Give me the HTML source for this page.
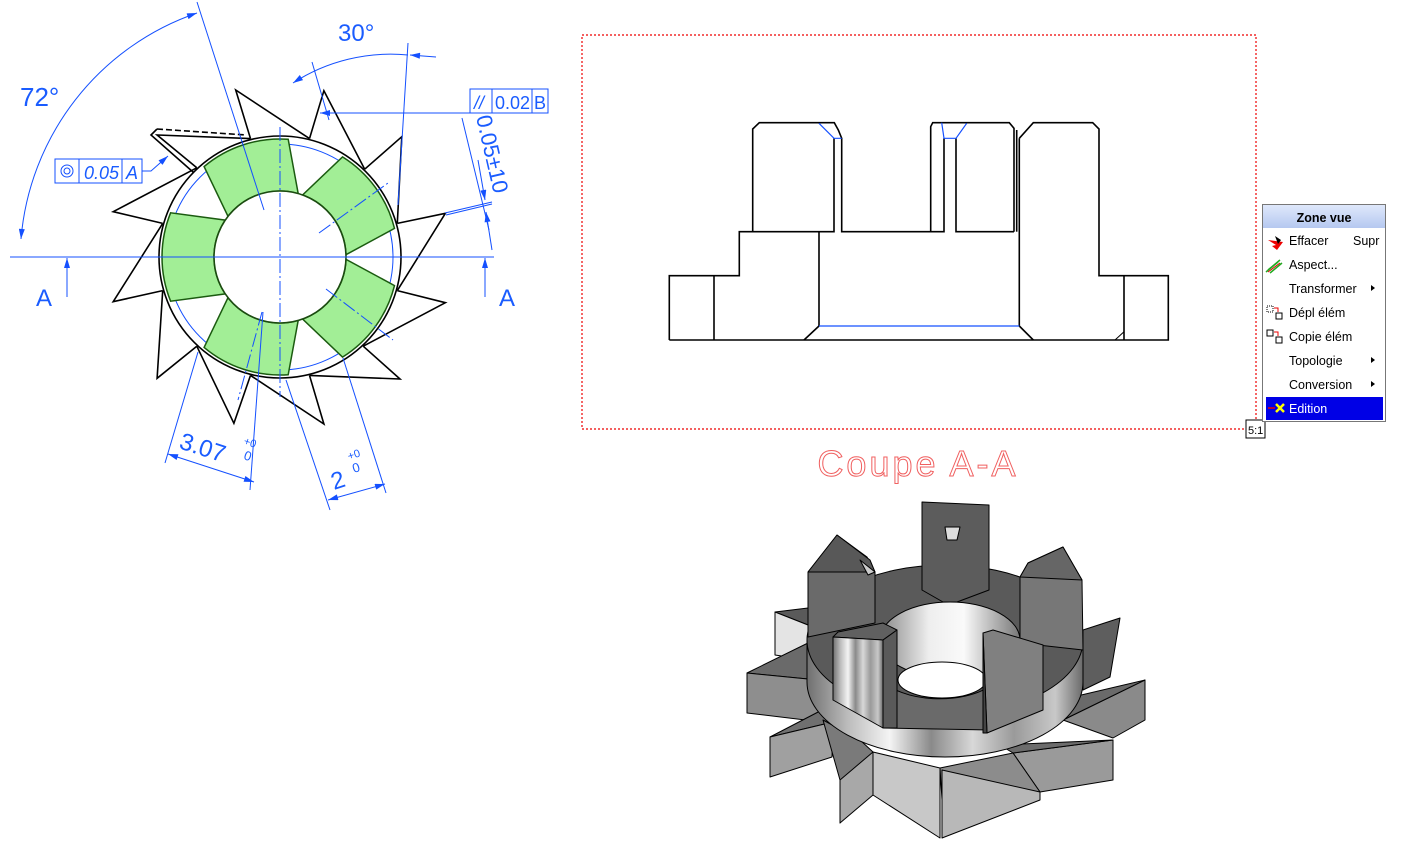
<!DOCTYPE html>
<html><head><meta charset="utf-8"><style>
html,body{margin:0;padding:0;background:#fff;width:1406px;height:847px;overflow:hidden}
svg{display:block}
.b{stroke:#1450ff;stroke-width:1;fill:none}
.k{stroke:#000;stroke-width:1.6;fill:none}
.t{font-family:"Liberation Sans",sans-serif;fill:#1a5cff}
.m{font-family:"Liberation Sans",sans-serif;font-size:12.5px}
.g{fill:#a2ee96;stroke:#1b5b10;stroke-width:1.5}
</style></head><body>
<svg width="1406" height="847" viewBox="0 0 1406 847" xmlns="http://www.w3.org/2000/svg">
<defs>
<marker id="ar" viewBox="0 0 10 6" refX="10" refY="3" markerWidth="12" markerHeight="6" orient="auto-start-reverse" markerUnits="userSpaceOnUse"><path d="M0,0L10,3L0,6z" fill="#1450ff"/></marker>
<linearGradient id="met" x1="0" x2="1" y1="0" y2="0">
<stop offset="0" stop-color="#707070"/><stop offset="0.15" stop-color="#bdbdbd"/><stop offset="0.3" stop-color="#f4f4f4"/><stop offset="0.45" stop-color="#8a8a8a"/><stop offset="0.6" stop-color="#d8d8d8"/><stop offset="0.75" stop-color="#9a9a9a"/><stop offset="0.9" stop-color="#c8c8c8"/><stop offset="1" stop-color="#6a6a6a"/></linearGradient>
<linearGradient id="inw" x1="0" x2="1"><stop offset="0" stop-color="#888"/><stop offset="0.35" stop-color="#eee"/><stop offset="0.6" stop-color="#fafafa"/><stop offset="1" stop-color="#777"/></linearGradient>
<linearGradient id="hdr" x1="0" x2="0" y1="0" y2="1"><stop offset="0" stop-color="#dfe8fb"/><stop offset="1" stop-color="#b5c8f0"/></linearGradient>
</defs>

<!-- ===== LEFT DRAWING ===== -->
<g class="k" stroke-width="1.5">
<polyline points="162.7,223.4 113.2,211.7 196.8,167.8"/>
<polyline points="196.8,167.8 157.1,135 250.5,138.6"/>
<polyline points="250.5,138.6 235.7,90 309.5,138.6"/>
<polyline points="309.5,138.6 323.9,90.7 364.7,169.2"/>
<polyline points="364.7,169.2 401.8,136.7 397.3,223.4"/>
<polyline points="397.3,223.4 445.4,213.3 397.3,290.6"/>
<polyline points="397.3,290.6 445.4,302.7 363.2,346.2"/>
<polyline points="363.2,346.2 400,379 309.5,375.4"/>
<polyline points="309.5,375.4 323.9,424 250.5,375.4"/>
<polyline points="250.5,375.4 233.9,423.3 196.8,346.2"/>
<polyline points="196.8,346.2 157.1,378.3 162.7,290.6"/>
<polyline points="162.7,290.6 113.2,301.7 162.7,223.4"/>
<polyline points="157,129 151,135 193,172"/>
<line x1="157" y1="129" x2="246" y2="135" stroke-dasharray="6,3"/>
</g>
<circle cx="280" cy="257" r="121" fill="#fff" class="k"/>
<circle cx="280" cy="257" r="113" class="b"/>
<path class="g" d="M170.6,212.8 A118,118 0 0 0 170.6,301.2 L225.3,293.9 A66,66 0 0 1 225.3,220.1 Z"/>
<path class="g" d="M288.2,139.3 A118,118 0 0 0 204.1,166.6 L228,216.3 A66,66 0 0 1 298.2,193.6 Z"/>
<path class="g" d="M394.5,228.4 A118,118 0 0 0 342.5,156.9 L302.6,195 A66,66 0 0 1 346,254.7 Z"/>
<path class="g" d="M342.5,357.1 A118,118 0 0 0 394.5,285.6 L346,259.3 A66,66 0 0 1 302.6,319 Z"/>
<path class="g" d="M204.1,347.4 A118,118 0 0 0 288.2,374.7 L298.2,320.4 A66,66 0 0 1 228,297.7 Z"/>
<circle cx="280" cy="257" r="66" fill="#fff" stroke="#1b4b10" stroke-width="1.6"/>
<!-- center lines -->
<line x1="10" y1="257" x2="494" y2="257" class="b"/>
<line x1="280" y1="127" x2="280" y2="397" class="b" stroke-dasharray="14,3,2,3"/>
<line x1="319" y1="233" x2="388" y2="183" class="b" stroke-dasharray="14,3,2,3"/>
<line x1="326" y1="289" x2="393" y2="340" class="b" stroke-dasharray="14,3,2,3"/>
<line x1="262" y1="312" x2="238" y2="400" class="b" stroke-dasharray="14,3,2,3"/>
<!-- A arrows -->
<line x1="67" y1="297" x2="67" y2="258" class="b" marker-end="url(#ar)"/>
<line x1="485" y1="297" x2="485" y2="258" class="b" marker-end="url(#ar)"/>
<text x="36" y="306" class="t" font-size="24">A</text>
<text x="499" y="306" class="t" font-size="24">A</text>
<!-- 72 deg -->
<line x1="197" y1="2" x2="264" y2="210" class="b"/>
<path d="M21,239 A262,262 0 0 1 197,13" class="b" marker-start="url(#ar)" marker-end="url(#ar)"/>
<text x="20" y="106" class="t" font-size="26">72°</text>
<!-- 30 deg -->
<line x1="312" y1="62" x2="329" y2="120" class="b"/>
<line x1="408" y1="43" x2="398" y2="205" class="b"/>
<path d="M293,83 A180,180 0 0 1 408,55" class="b" marker-start="url(#ar)"/>
<line x1="436" y1="57" x2="410" y2="55" class="b" marker-end="url(#ar)"/>
<text x="338" y="41" class="t" font-size="24">30°</text>
<!-- parallelism frame -->
<line x1="470" y1="113" x2="320" y2="113" class="b" marker-end="url(#ar)"/>
<rect x="470" y="89" width="78" height="24" class="b"/>
<line x1="492" y1="89" x2="492" y2="113" class="b"/><line x1="532" y1="89" x2="532" y2="113" class="b"/>
<text x="474" y="109" class="t" font-size="18" font-style="italic">//</text>
<text x="495" y="109" class="t" font-size="18">0.02</text>
<text x="534" y="109" class="t" font-size="18">B</text>
<!-- 0.05 +-10 -->
<line x1="462" y1="118" x2="489" y2="230" class="b"/>
<line x1="478" y1="160" x2="485" y2="200" class="b" marker-end="url(#ar)"/>
<line x1="492" y1="250" x2="486" y2="212" class="b" marker-end="url(#ar)"/>
<line x1="445" y1="213" x2="492" y2="202" class="b"/><line x1="446" y1="215" x2="492" y2="204" class="b"/>
<text transform="translate(476,117) rotate(77)" class="t" font-size="22">0.05±10</text>
<!-- concentricity -->
<rect x="55" y="159" width="87" height="24" class="b"/>
<line x1="79" y1="159" x2="79" y2="183" class="b"/><line x1="122" y1="159" x2="122" y2="183" class="b"/>
<circle cx="67" cy="171" r="6" class="b"/><circle cx="67" cy="171" r="3" class="b"/>
<text x="84" y="179" class="t" font-size="18" font-style="italic">0.05</text>
<text x="126" y="179" class="t" font-size="18" font-style="italic">A</text>
<polyline points="142,171 151,171 168,156" class="b" marker-end="url(#ar)"/>
<!-- 3.07 -->
<line x1="165" y1="463" x2="198" y2="352" class="b"/>
<line x1="250" y1="490" x2="263" y2="312" class="b"/>
<line x1="168" y1="454" x2="254" y2="482" class="b" marker-start="url(#ar)" marker-end="url(#ar)"/>
<text transform="translate(178,448) rotate(18)" class="t" font-size="24">3.07</text>
<text transform="translate(243,444) rotate(18)" class="t" font-size="11">+0</text>
<text transform="translate(243,459) rotate(18)" class="t" font-size="13">0</text>
<!-- 2 -->
<line x1="286" y1="380" x2="330" y2="510" class="b"/>
<line x1="343" y1="358" x2="386" y2="493" class="b"/>
<line x1="328" y1="500" x2="385" y2="484" class="b" marker-start="url(#ar)" marker-end="url(#ar)"/>
<text transform="translate(334,490) rotate(-18)" class="t" font-size="24">2</text>
<text transform="translate(349,460) rotate(-18)" class="t" font-size="11">+0</text>
<text transform="translate(354,473) rotate(-18)" class="t" font-size="13">0</text>

<!-- ===== SECTION VIEW ===== -->
<rect x="582" y="35" width="674" height="394" fill="none" stroke="#e00" stroke-width="1.2" stroke-dasharray="2,2"/>
<rect x="1246" y="420" width="19" height="18" fill="#fff" stroke="#000" stroke-width="1"/>
<text x="1248" y="434" font-family="Liberation Sans,sans-serif" font-size="11">5:1</text>
<g class="k" stroke-width="2">
<polyline points="669.3,340 669.3,275.7 739.3,275.7 739.3,231.7 752.7,231.7 752.7,129 759.3,122.7 834.3,122.7 838.3,130 841.7,138.3 841.7,231.7 930.7,231.7 930.7,126.7 932.7,122.7 1009.3,122.7 1014,128.3 1014,231.7"/>
<polyline points="1019.3,138.3 1033.3,122.7 1092.7,122.7 1099,129 1099,275.7 1168.3,275.7 1168.3,340 669.3,340"/>
<line x1="714" y1="275.7" x2="714" y2="340"/>
<polyline points="752.7,231.7 834,231.7 834,138.3"/>
<polyline points="804,340 819,326 819,231.7"/>
<polyline points="1033.3,340 1019.3,326 1019.3,138.3"/>
<line x1="1016.7" y1="130" x2="1016.7" y2="231.7"/>
<polyline points="944,138.3 944,231.7 930.7,231.7"/>
<polyline points="956,138.3 956,231.7 1014,231.7"/>
<line x1="1124" y1="275.7" x2="1124" y2="340"/>
</g>
<g stroke="#1450ff" stroke-width="1.2" fill="none">
<line x1="819" y1="326" x2="1019.3" y2="326"/>
<polyline points="819,123.3 834,138.3 841.7,138.3"/>
<polyline points="941.7,122.7 944,138.3 956,138.3 966.7,123.3"/>
</g>
<line x1="1115" y1="340" x2="1124" y2="331.7" stroke="#000" stroke-width="1"/>
<text x="918" y="476" text-anchor="middle" font-family="Liberation Sans,sans-serif" font-size="36" fill="none" stroke="#f06060" stroke-width="1" letter-spacing="3">Coupe  A-A</text>

<!-- ===== MENU ===== -->
<rect x="1262.5" y="204.5" width="123" height="217" fill="#fff" stroke="#777"/>
<rect x="1263" y="205" width="122" height="23" fill="url(#hdr)"/>
<text x="1324" y="222" text-anchor="middle" font-family="Liberation Sans,sans-serif" font-size="12.5" font-weight="bold">Zone vue</text>
<rect x="1266" y="397" width="117" height="23" fill="#0000e6"/>
<g fill="#000">
<text x="1289" y="245" class="m">Effacer</text><text x="1353" y="245" class="m">Supr</text>
<text x="1289" y="269" class="m">Aspect...</text>
<text x="1289" y="293" class="m">Transformer</text>
<text x="1289" y="317" class="m">Dépl élém</text>
<text x="1289" y="341" class="m">Copie élém</text>
<text x="1289" y="365" class="m">Topologie</text>
<text x="1289" y="389" class="m">Conversion</text>
</g>
<text x="1289" y="413" class="m" style="fill:#fff">Edition</text>
<g fill="#000"><path d="M1371,285l4,3l-4,3z"/><path d="M1371,357l4,3l-4,3z"/><path d="M1371,381l4,3l-4,3z"/></g>
<path d="M1268,240l8,5l-4,1l5,4l6-8z" fill="#e00"/><path d="M1275,236l6,4l-3,4z" fill="#000"/>
<path d="M1268,270l12-10M1270,273l12-10M1266,272l12-10" stroke="#2a2" stroke-width="1.5"/><path d="M1268,272l12-9" stroke="#d00"/>
<rect x="1267" y="306" width="6" height="6" fill="none" stroke="#000" stroke-dasharray="1,1"/><rect x="1276" y="313" width="6" height="6" fill="none" stroke="#000"/>
<rect x="1267" y="330" width="6" height="6" fill="none" stroke="#000"/><rect x="1276" y="337" width="6" height="6" fill="none" stroke="#000"/>
<path d="M1274,308h4v4M1274,332h4v4" stroke="#e00" fill="none"/>
<path d="M1276,404l8,8M1284,404l-8,8" stroke="#ff0" stroke-width="2.5"/><path d="M1268,408h7" stroke="#e00" stroke-width="1.5"/>

<!-- ===== 3D GEAR ===== -->
<g stroke="#000" stroke-width="1" stroke-linejoin="round">
<polygon points="1083,630 1120,618 1110,677 1083,690" fill="#5e5e5e"/>
<polygon points="775,612 808,608 808,625" fill="#5a5a5a"/>
<polygon points="775,612 808,625 808,660 775,655" fill="#e4e4e4"/>
<polygon points="747,673 810,642 818,680" fill="#6a6a6a"/>
<polygon points="747,673 747,713 822,722 818,680" fill="#8e8e8e"/>
<polygon points="1063,720 1145,680 1145,720 1113,738" fill="#8a8a8a"/>
<polygon points="1060,700 1145,680 1063,720" fill="#6a6a6a"/>
<polygon points="770,737 822,710 833,722" fill="#707070"/>
<polygon points="770,737 770,777 832,757 833,722" fill="#a0a0a0"/>
<polygon points="1013,753 1113,740 1113,780 1040,792" fill="#9a9a9a"/>
<polygon points="1000,745 1113,740 1013,753" fill="#6c6c6c"/>
<polygon points="823,720 840,780 840,823 873,752 860,740" fill="#7a7a7a"/>
<polygon points="840,780 873,752 873,795 840,823" fill="#a8a8a8"/>
<polygon points="873,752 940,768 940,838 873,795" fill="#c8c8c8"/>
<polygon points="940,768 1013,753 1040,792 942,800" fill="#8c8c8c"/>
<polygon points="942,770 1040,792 1040,800 942,838" fill="#b8b8b8"/>
<path d="M807,640 L807,682 A138,75 0 0 0 1083,682 L1083,640 Z" fill="url(#met)"/>
<ellipse cx="945" cy="640" rx="138" ry="75" fill="#5a5a5a"/>
<polygon points="808,572 837,535 867,557 875,572 875,623 808,637" fill="#6a6a6a"/>
<polygon points="808,572 875,572 870,560 837,535" fill="#585858"/>
<polygon points="860,560 875,572 868,575" fill="#ccc"/>
<polygon points="1020,577 1028,563 1063,547 1082,580 1083,650 1020,643" fill="#777"/>
<polygon points="1020,577 1082,580 1063,547 1028,563" fill="#666"/>
<polygon points="922,502 989,505 989,590 957,602 943,602 922,590" fill="#5c5c5c"/>
<polygon points="945,527 960,527 957,540 947,540" fill="#ddd"/>
<ellipse cx="950" cy="640" rx="70" ry="38" fill="url(#inw)"/>
<ellipse cx="942" cy="680" rx="44" ry="18" fill="#fff"/>
<path d="M883,680 A60,28 0 0 0 990,686 L990,730 L883,728 Z" fill="#6a6a6a"/>
<polygon points="833,637 838,632 883,623 897,630 883,640" fill="#606060"/>
<polygon points="833,637 883,640 883,728 833,700" fill="url(#met)"/>
<polygon points="883,640 897,630 897,728 883,728" fill="#5a5a5a"/>
<polygon points="983,633 993,630 1043,645 1043,710 987,733" fill="#808080"/>
<polygon points="983,633 987,733 983,733" fill="#444"/>
</g>
</svg>
</body></html>
